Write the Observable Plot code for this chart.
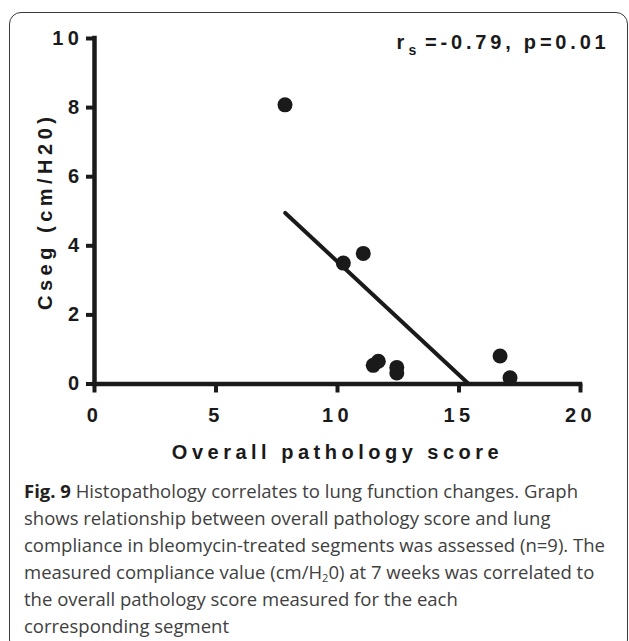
<!DOCTYPE html>
<html>
<head>
<meta charset="utf-8">
<script src="https://cdn.jsdelivr.net/npm/d3@7"></script>
<script src="https://cdn.jsdelivr.net/npm/@observablehq/plot@0.6"></script>
<style>
  html, body { margin: 0; padding: 0; background: #fff; }
  body { width: 629px; height: 641px; position: relative; overflow: hidden; }
  #frame { position: absolute; left: 9px; top: 12px; width: 619px; height: 640px;
           border: 1.5px solid #3a3a3a; border-radius: 12px; box-sizing: border-box; }
  #chart { position: absolute; left: 0; top: 0; }
  #chart svg text { letter-spacing: 4.5px; }
  #chart svg text.stat { letter-spacing: 3.8px; }
  #caption { position: absolute; left: 24px; top: 477px; font-family: "Open Sans", sans-serif;
             font-size: 18.5px; line-height: 27px; color: #404040; white-space: nowrap; }
  #caption b { color: #231f20; }
  #caption sub { font-size: 11px; line-height: 0; vertical-align: -3px; }
</style>
</head>
<body>
<div id="frame"></div>
<div id="chart"></div>
<div id="caption">
  <div><b>Fig. 9</b> Histopathology correlates to lung function changes. Graph</div>
  <div>shows relationship between overall pathology score and lung</div>
  <div>compliance in bleomycin-treated segments was assessed (n=9). The</div>
  <div>measured compliance value (cm/H<sub>2</sub>0) at 7 weeks was correlated to</div>
  <div>the overall pathology score measured for the each</div>
  <div>corresponding segment</div>
</div>
<script>
// Data
const pathologyScore = [7.84, 10.24, 11.06, 11.47, 11.68, 12.44, 12.44, 16.69, 17.10];
const csegValues     = [8.08, 3.50, 3.78, 0.54, 0.66, 0.48, 0.32, 0.81, 0.18];
const fitScore = [7.85, 15.4];
const fitCseg  = [4.95, 0];
const xTicks = [0, 5, 10, 15, 20];
const yTicks = [0, 2, 4, 6, 8, 10];
const xLabel = "Overall pathology score";
const yLabel = "Cseg (cm/H20)";
const statR = "r", statSub = "s", statText = "=-0.79, p=0.01";

const points = pathologyScore.map((x, i) => ({x, y: csegValues[i]}));
const fit = fitScore.map((x, i) => ({x, y: fitCseg[i]}));
const ink = "#1a1a1a";
const font = {fontSize: 20, fontWeight: "bold"};

const chart = Plot.plot({
  width: 629,
  height: 440,
  marginLeft: 94,
  marginRight: 49,
  marginTop: 38,
  marginBottom: 56.5,
  x: {domain: [0, 20]},
  y: {domain: [0, 10]},
  style: {fontFamily: "'Liberation Sans', Arial, Helvetica, sans-serif", color: ink, background: "transparent", overflow: "visible"},
  marks: [
    Plot.axisX({ticks: xTicks, tickSize: 9, tickPadding: 15, strokeWidth: 4, label: null, ...font}),
    Plot.axisY({ticks: yTicks, tickSize: 8, tickPadding: 3, strokeWidth: 4, label: null, ...font}),
    Plot.ruleY([0], {x1: 0, x2: 20, stroke: ink, strokeWidth: 4.5, strokeLinecap: "square"}),
    Plot.ruleX([0], {y1: 0, y2: 10, stroke: ink, strokeWidth: 4.5, strokeLinecap: "square"}),
    Plot.line(fit, {x: "x", y: "y", stroke: ink, strokeWidth: 4}),
    Plot.dot(points, {x: "x", y: "y", r: 7.5, fill: ink, stroke: "none"}),
    Plot.text([xLabel], {text: d => d, frameAnchor: "bottom", dy: 69, lineAnchor: "middle", ...font}),
    Plot.text([yLabel], {text: d => d, frameAnchor: "left", textAnchor: "middle", rotate: -90, dx: -49, lineAnchor: "middle", ...font}),
    Plot.text([statR], {text: d => d, frameAnchor: "top-right", textAnchor: "start", lineAnchor: "middle", dx: -184, dy: 4, ...font}),
    Plot.text([statSub], {text: d => d, frameAnchor: "top-right", textAnchor: "start", lineAnchor: "middle", dx: -172, dy: 12, fontSize: 14, fontWeight: "bold"}),
    Plot.text([statText], {text: d => d, frameAnchor: "top-right", textAnchor: "end", lineAnchor: "middle", dx: 29, dy: 4, ...font})
  ]
});
d3.select(chart).selectAll("text")
  .filter(function () { return [statR, statSub, statText].includes(this.textContent); })
  .classed("stat", true);
document.getElementById("chart").append(chart);
</script>
</body>
</html>
